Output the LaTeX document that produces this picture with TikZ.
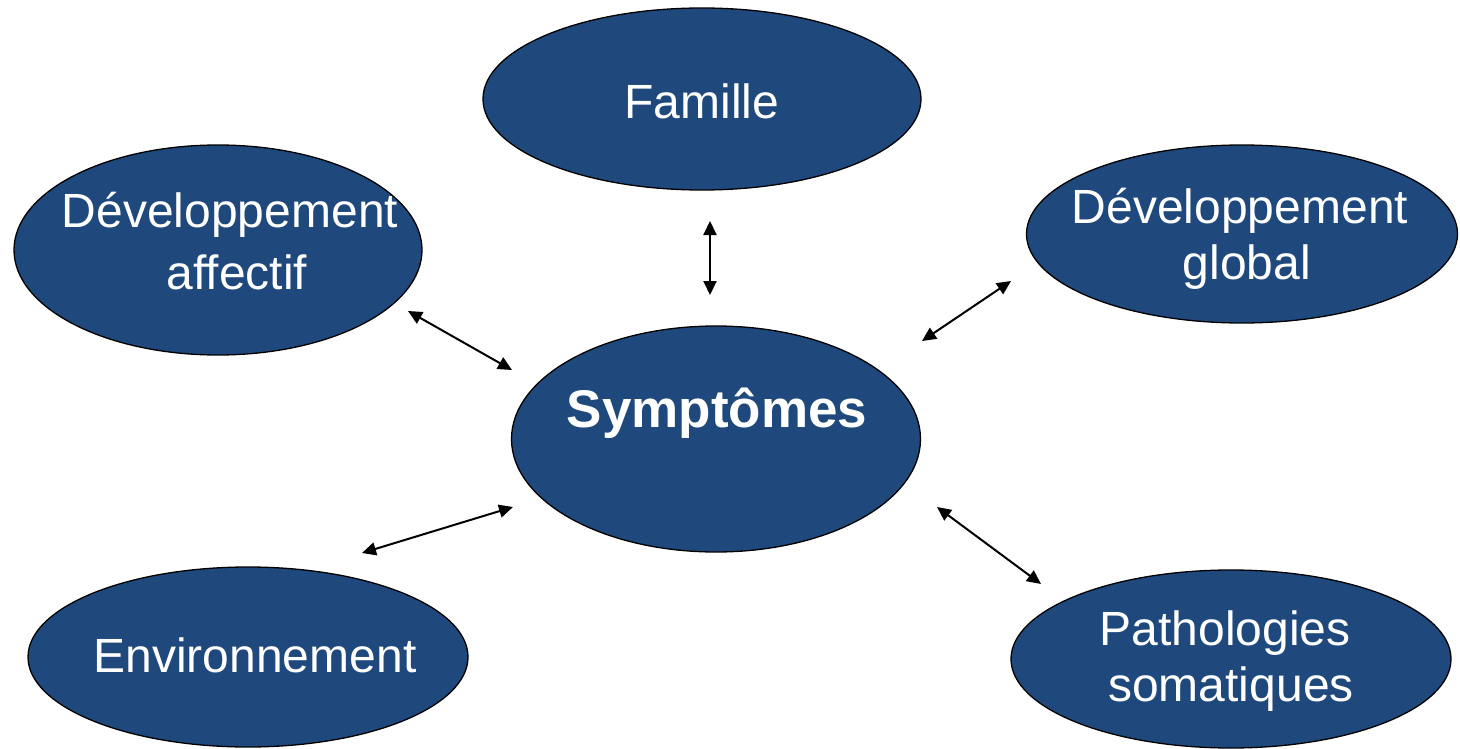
\documentclass[tikz,border=0pt]{standalone}
\usepackage{fontspec}
\setmainfont{Liberation Sans}
\usetikzlibrary{arrows.meta,shapes.geometric}
\definecolor{bluefill}{HTML}{1F497D}
\begin{document}
\begin{tikzpicture}[x=1pt,y=-1pt,
  blob/.style={ellipse,draw=black,line width=1.3pt,fill=bluefill,inner sep=0pt},
  lbl/.style={text=white,align=center,inner sep=0pt,font=\fontsize{48}{57}\selectfont},
  dbl/.style={{Triangle[length=14pt,width=13pt]}-{Triangle[length=14pt,width=13pt]},line width=2pt,black}]
\useasboundingbox (0,0) rectangle (1460,749);
% ellipses
\node[blob,minimum width=438pt,minimum height=182pt] (fam) at (702,99) {};
\node[blob,minimum width=408pt,minimum height=210pt] (daff) at (218,250) {};
\node[blob,minimum width=431pt,minimum height=178pt] (dglob) at (1242,234) {};
\node[blob,minimum width=409pt,minimum height=226pt] (sym) at (716,439) {};
\node[blob,minimum width=440pt,minimum height=180pt] (env) at (248,657) {};
\node[blob,minimum width=440pt,minimum height=178pt] (path) at (1231,659) {};
% texts
\node[lbl] (tfam) at (702,101) {Famille};
\node[lbl] (tdaff1) at (230,215) {Développement};
\node[lbl] (tdaff2) at (237,272) {affectif};
\node[lbl] (tdglob1) at (1240,211) {Développement};
\node[lbl] (tdglob2) at (1247,267) {global};
\node[lbl,font=\bfseries\fontsize{53}{60}\selectfont] (tsym) at (717,413) {Symptômes};
\node[lbl] (tenv) at (255,655) {Environnement};
\node[lbl] (tpath1) at (1225,633) {Pathologies};
\node[lbl] (tpath2) at (1231,689) {somatiques};
% arrow ends
\coordinate (a1) at (710,221); \coordinate (b1) at (710,295);
\coordinate (a2) at (408,311); \coordinate (b2) at (512,370);
\coordinate (a3) at (1011,281); \coordinate (b3) at (922,341);
\coordinate (a4) at (362,553); \coordinate (b4) at (513,507);
\coordinate (a5) at (937,507); \coordinate (b5) at (1041,584);
\draw[dbl] (a1) -- (b1);
\draw[dbl] (a2) -- (b2);
\draw[dbl] (a3) -- (b3);
\draw[dbl] (a4) -- (b4);
\draw[dbl] (a5) -- (b5);
\end{tikzpicture}
\end{document}
